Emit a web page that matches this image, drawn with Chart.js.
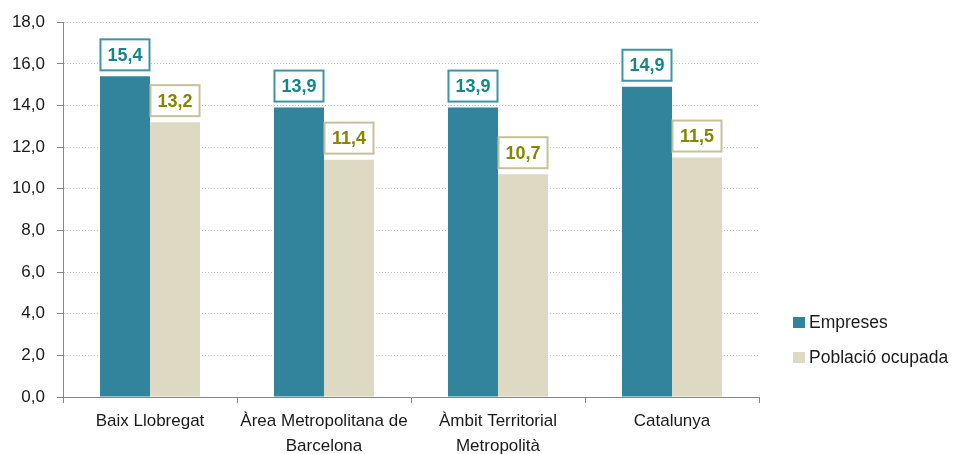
<!DOCTYPE html>
<html>
<head>
<meta charset="utf-8">
<script src="https://cdn.jsdelivr.net/npm/chart.js@4.4.0/dist/chart.umd.min.js"></script>
<style>
html,body{margin:0;padding:0;background:#fff;}
#wrap{position:relative;width:953px;height:454px;}
</style>
</head>
<body>
<div id="wrap"><canvas id="c"></canvas></div>
<script>
const categories = ["Baix Llobregat", ["Àrea Metropolitana de", "Barcelona"], ["Àmbit Territorial", "Metropolità"], "Catalunya"];
const empreses = [15.4, 13.9, 13.9, 14.9];
const poblacio = [13.2, 11.4, 10.7, 11.5];
const seriesNames = ["Empreses", "Població ocupada"];
const yTicks = [0, 2, 4, 6, 8, 10, 12, 14, 16, 18];

const FONT = "'Liberation Sans', Arial, sans-serif";
const fmt = v => v.toFixed(1).replace('.', ',');

const boxStyles = [
  {text: '#15868A', border: '#3E93A6'},
  {text: '#868600', border: '#C9C09A'}
];

const labelPlugin = {
  id: 'boxLabels',
  afterDatasetsDraw(chart) {
    const ctx = chart.ctx;
    chart.data.datasets.forEach((ds, di) => {
      const meta = chart.getDatasetMeta(di);
      meta.data.forEach((bar, i) => {
        const w = bar.width - 1;
        const h = 31;
        const x = bar.x - w / 2;
        const y = bar.y - 6 - h;
        ctx.save();
        ctx.fillStyle = '#fff';
        ctx.fillRect(x, y, w, h);
        ctx.strokeStyle = boxStyles[di].border;
        ctx.lineWidth = 2;
        ctx.strokeRect(x, y, w, h);
        ctx.fillStyle = boxStyles[di].text;
        ctx.font = "bold 18px " + FONT;
        ctx.textAlign = 'center';
        ctx.textBaseline = 'middle';
        ctx.fillText(fmt(ds.data[i]), bar.x, y + h / 2 + 1);
        ctx.restore();
      });
    });
  }
};

const legendPlugin = {
  id: 'sideLegend',
  afterDraw(chart) {
    const ctx = chart.ctx;
    const items = [
      {y: 322, color: '#31849B', label: seriesNames[0]},
      {y: 357, color: '#DDD9C3', label: seriesNames[1]}
    ];
    ctx.save();
    items.forEach(it => {
      ctx.fillStyle = it.color;
      ctx.fillRect(793, it.y - 5, 12, 11);
      ctx.fillStyle = '#1a1a1a';
      ctx.font = "17.5px " + FONT;
      ctx.textAlign = 'left';
      ctx.textBaseline = 'middle';
      ctx.fillText(it.label, 809, it.y + 1);
    });
    ctx.restore();
  }
};

new Chart(document.getElementById('c'), {
  type: 'bar',
  data: {
    labels: categories,
    datasets: [
      {label: seriesNames[0], data: empreses, backgroundColor: '#31849B', categoryPercentage: 0.575, barPercentage: 1.0},
      {label: seriesNames[1], data: poblacio, backgroundColor: '#DDD9C3', categoryPercentage: 0.575, barPercentage: 1.0}
    ]
  },
  options: {
    responsive: true,
    maintainAspectRatio: false,
    animation: false,
    layout: {padding: {top: 22, right: 194, left: 0, bottom: 0}},
    plugins: {legend: {display: false}, tooltip: {enabled: false}},
    scales: {
      x: {
        grid: {offset: true, drawOnChartArea: false, drawTicks: true, tickLength: 6, color: '#868686', tickColor: '#868686'},
        border: {color: '#868686', width: 1},
        ticks: {font: {size: 17, family: FONT, lineHeight: 1.47}, color: '#1a1a1a', padding: 6, maxRotation: 0, autoSkip: false},
        afterFit(s) { s.height = 57; }
      },
      y: {
        min: 0, max: 18,
        afterBuildTicks(s) { s.ticks = yTicks.map(v => ({value: v})); },
        ticks: {callback: v => fmt(v), font: {size: 17, family: FONT}, color: '#1a1a1a', padding: 12},
        grid: {color: '#BFBFBF', tickColor: '#868686', tickLength: 6, tickBorderDash: []},
        border: {color: '#868686', width: 1, dash: [1, 2]},
        afterFit(s) { s.width = 63; }
      }
    }
  },
  plugins: [labelPlugin, legendPlugin]
});
</script>
</body>
</html>
